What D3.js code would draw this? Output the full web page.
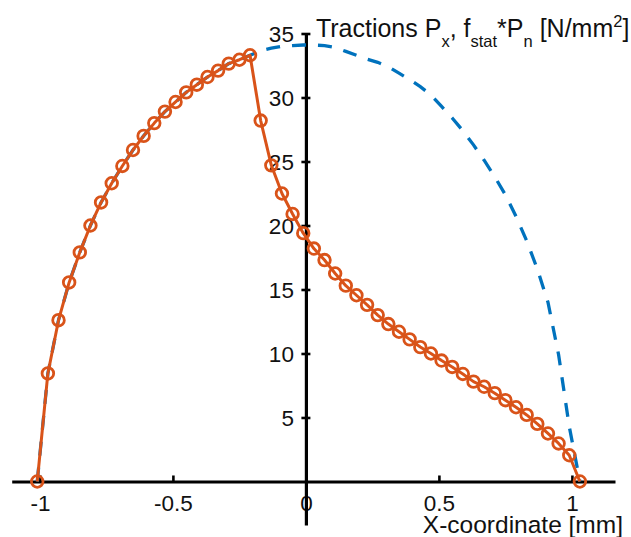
<!DOCTYPE html>
<html>
<head>
<meta charset="utf-8">
<script src="https://cdn.jsdelivr.net/npm/d3@7"></script>
<style>
  body { margin: 0; background: #fff; }
  svg { display: block; }
  text { font-family: "Liberation Sans", Arial, Helvetica, sans-serif; fill: #111; }
</style>
</head>
<body>
<svg id="chart" width="631" height="537"></svg>
<script>
// Node x-coordinates of the contact patch [mm]
const xNodes = [
  -1.01, -0.97, -0.93, -0.89, -0.85, -0.81, -0.77, -0.73, -0.69, -0.65,
  -0.61, -0.57, -0.53, -0.49, -0.45, -0.41, -0.37, -0.33, -0.29, -0.25,
  -0.21, -0.17, -0.13, -0.09, -0.05, -0.01, 0.03, 0.07, 0.11, 0.15,
  0.19, 0.23, 0.27, 0.31, 0.35, 0.39, 0.43, 0.47, 0.51, 0.55,
  0.59, 0.63, 0.67, 0.71, 0.75, 0.79, 0.83, 0.87, 0.91, 0.95,
  0.99, 1.03
];

// Tangential traction Px [N/mm^2]
const tractionPx = [
  0, 8.44, 12.6, 15.55, 17.9, 20.0, 21.8, 23.3, 24.65, 25.9,
  27.0, 28.0, 28.9, 29.65, 30.4, 31.0, 31.6, 32.1, 32.65, 32.95,
  33.3, 28.2, 24.7, 22.5, 20.9, 19.4, 18.2, 17.3, 16.25, 15.3,
  14.55, 13.8, 13.0, 12.3, 11.7, 11.1, 10.5, 10.0, 9.45, 8.95,
  8.4, 7.8, 7.4, 6.9, 6.35, 5.8, 5.2, 4.5, 3.75, 2.97,
  2.05, 0
];

// Traction bound f_stat * Pn [N/mm^2]
const fstatPn = [
  0, 8.44, 12.6, 15.55, 17.9, 20.0, 21.8, 23.3, 24.65, 25.9,
  27.0, 28.0, 28.9, 29.65, 30.4, 31.0, 31.6, 32.1, 32.65, 32.95,
  33.3, 33.65, 33.85, 34.0, 34.05, 34.1, 34.1, 34.05, 33.9, 33.6,
  33.3, 33.0, 32.75, 32.4, 31.9, 31.4, 30.85, 30.2, 29.3, 28.4,
  27.4, 26.3, 25.1, 23.8, 22.4, 20.7, 18.8, 16.6, 14.0, 9.9,
  4.3, 0
];

const xTicks = [-1, -0.5, 0, 0.5, 1];
const xTickLabels = ["-1", "-0.5", "0", "0.5", "1"];
const yTicks = [5, 10, 15, 20, 25, 30, 35];
const yTickLabels = ["5", "10", "15", "20", "25", "30", "35"];

const ORANGE = "#D95319";
const BLUE = "#0072BD";

const svg = d3.select("#chart");

const x = d3.scaleLinear().domain([-1.106, 1.162]).range([11.7, 615]);
const y = d3.scaleLinear().domain([-3.4, 35]).range([525, 33.5]);
const x0 = x(0), y0 = y(0);

// ---- Axes crossing at the origin ----
const gx = svg.append("g").attr("transform", `translate(0,${y0})`)
  .call(d3.axisBottom(x).tickValues(xTicks)
    .tickFormat((d, i) => xTickLabels[i])
    .tickSize(0).tickSizeOuter(0).tickPadding(13.5));
gx.select(".domain").attr("stroke", "#000").attr("stroke-width", 3.2);
gx.selectAll(".tick text").attr("font-size", 22.5).attr("fill", "#111")
  .attr("font-family", "Liberation Sans, Arial, sans-serif");
gx.selectAll(".tick").append("line")
  .attr("y1", -6).attr("y2", 0).attr("stroke", "#000").attr("stroke-width", 2.6);

const gy = svg.append("g").attr("transform", `translate(${x0},0)`)
  .call(d3.axisLeft(y).tickValues(yTicks)
    .tickFormat((d, i) => yTickLabels[i])
    .tickSize(0).tickSizeOuter(0).tickPadding(12));
gy.select(".domain").attr("stroke", "#000").attr("stroke-width", 3.2);
gy.selectAll(".tick text").attr("font-size", 22.5).attr("fill", "#111").attr("dy", "0.37em")
  .attr("font-family", "Liberation Sans, Arial, sans-serif");
gy.selectAll(".tick").append("line")
  .attr("x1", -4.5).attr("x2", 4.5).attr("stroke", "#000").attr("stroke-width", 2.6);

// ---- Data ----
const pts = (vals) => xNodes.map((xv, i) => [xv, vals[i]]);
const line = d3.line().x(d => x(d[0])).y(d => y(d[1]));

svg.append("path")
  .datum(pts(fstatPn))
  .attr("d", line)
  .attr("fill", "none")
  .attr("stroke", BLUE)
  .attr("stroke-width", 3.3)
  .attr("stroke-dasharray", "14,12");

svg.append("path")
  .datum(pts(tractionPx))
  .attr("d", line)
  .attr("fill", "none")
  .attr("stroke", ORANGE)
  .attr("stroke-width", 3)
  .attr("stroke-linejoin", "round");

svg.append("g").selectAll("circle")
  .data(pts(tractionPx))
  .join("circle")
  .attr("cx", d => x(d[0]))
  .attr("cy", d => y(d[1]))
  .attr("r", 5.8)
  .attr("fill", "none")
  .attr("stroke", ORANGE)
  .attr("stroke-width", 2.8);

// ---- Axis labels ----
const title = svg.append("text")
  .attr("x", x0 + 10).attr("y", 37)
  .attr("font-size", 25);
title.append("tspan").text("Tractions P");
title.append("tspan").attr("font-size", 16.5).attr("dy", 10).text("x");
title.append("tspan").attr("dy", -10).text(", f");
title.append("tspan").attr("font-size", 16.5).attr("dy", 10).text("stat");
title.append("tspan").attr("dy", -10).text("*P");
title.append("tspan").attr("font-size", 16.5).attr("dy", 10).text("n");
title.append("tspan").attr("dy", -10).text(" [N/mm");
title.append("tspan").attr("font-size", 16.5).attr("dy", -10).text("2");
title.append("tspan").attr("dy", 10).text("]");

svg.append("text")
  .attr("x", 623).attr("y", 533)
  .attr("text-anchor", "end")
  .attr("font-size", 24.5)
  .text("X-coordinate [mm]");
</script>
</body>
</html>
